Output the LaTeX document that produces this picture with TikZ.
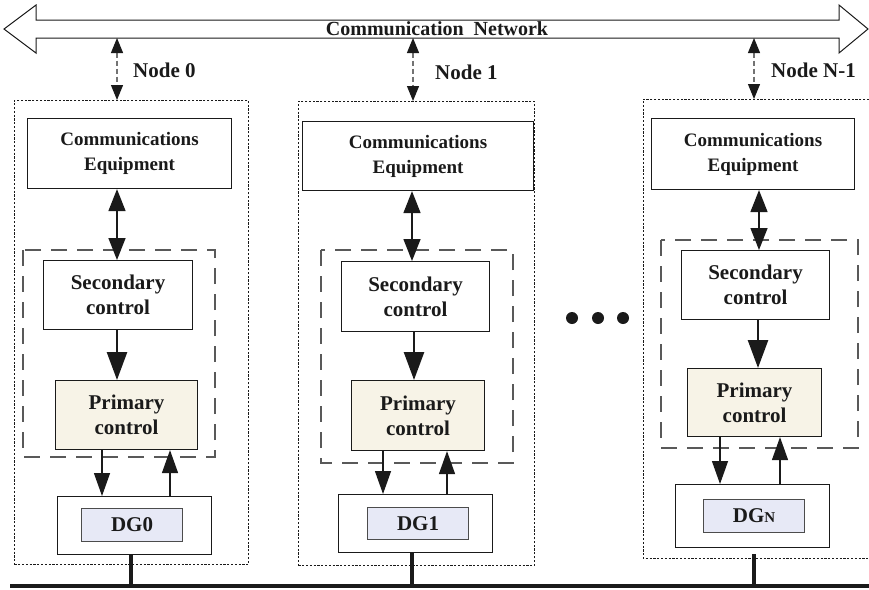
\documentclass[tikz,border=0pt]{standalone}
\usepackage{fontspec}
\setmainfont{Liberation Serif}
\usetikzlibrary{arrows.meta}
\definecolor{ink}{HTML}{1A1A1A}
\definecolor{cream}{HTML}{F7F3E7}
\definecolor{lav}{HTML}{E7E9F6}
\newcommand\fcomm{\fontsize{19}{25}\selectfont\bfseries}
\newcommand\fnet{\fontsize{20}{24}\selectfont\bfseries}
\newcommand\fctrl{\fontsize{21}{25}\selectfont\bfseries}
\newcommand\flabel{\fontsize{21}{24}\selectfont\bfseries}
\begin{document}
\begin{tikzpicture}[x=1pt,y=-1pt,
  blk/.style={draw=ink, line width=1.1pt, fill=white, inner sep=0pt,
    anchor=north west, align=center, text=ink},
  primbox/.style={blk, fill=cream, font=\fctrl},
  secbox/.style={blk, font=\fctrl},
  commbox/.style={blk, font=\fcomm},
  dgbox/.style={blk},
  dgcore/.style={blk, draw=black!70, line width=1pt, fill=lav, font=\fctrl},
  outerzone/.style={draw=ink, line width=0.9pt, dash pattern=on 2.2pt off 1.6pt,
    inner sep=0pt, anchor=north west},
  ctrlzone/.style={draw=black!65, line width=1.3pt, dash pattern=on 16pt off 10pt},
  lbl/.style={anchor=west, font=\flabel, text=ink, inner sep=0pt},
  netlink/.style={draw=black!55, line width=1.2pt, dash pattern=on 5pt off 3pt,
    {Triangle[length=15pt,width=12pt,color=ink]}-{Triangle[length=15pt,width=12pt,color=ink]}},
  commlink/.style={draw=ink, line width=1.5pt,
    {Triangle[length=22pt,width=17pt]}-{Triangle[length=22pt,width=17pt]}},
  flow/.style={draw=ink, line width=2.6pt, -{Triangle[length=28pt,width=20pt]}},
  sig/.style={draw=ink, line width=1.3pt, -{Triangle[length=23pt,width=16pt]}},
  bus/.style={draw=ink, line width=4.5pt},
  stub/.style={draw=ink, line width=3.5pt},
  dot/.style={circle, fill=ink, inner sep=0pt, minimum size=12pt}]
\useasboundingbox (0,0) rectangle (869,589);

% communication network (wide double-headed arrow)
\draw[draw=ink, line width=1pt, fill=white]
  (4,29) -- (36,5) -- (36,20) -- (839,20) -- (839,5) -- (868,29)
  -- (839,53) -- (839,38) -- (36,38) -- (36,53) -- cycle;
\coordinate (shaft) at (36,38);
\node[font=\fnet, text=ink, inner sep=0pt] (net) at (437,29) {Communication~~Network};

% ---------- node 0 ----------
\node[outerzone, minimum width=234pt, minimum height=464pt] (out0) at (14,100) {};
\draw[ctrlzone] (23,250) rectangle (215,457);
\node[commbox, minimum width=204pt, minimum height=70pt] (ce0) at (27,118) {Communications\\Equipment};
\node[secbox, minimum width=149pt, minimum height=69pt] (sc0) at (43,260) {Secondary\\control};
\node[primbox, minimum width=142pt, minimum height=69pt] (pc0) at (55,380) {Primary\\control};
\node[dgbox, minimum width=154pt, minimum height=58pt] (dg0) at (57,496) {};
\node[dgcore, minimum width=101pt, minimum height=33pt] (dgc0) at (81,508) {DG0};
\node[lbl] (n0) at (133,70) {Node 0};
\draw[netlink] (117,0 |- shaft) -- (117,0 |- out0.north);
\draw[commlink] (117,0 |- ce0.south) -- (117,0 |- sc0.north);
\draw[flow] (117,0 |- sc0.south) -- (117,0 |- pc0.north);
\draw[sig] (102,0 |- pc0.south) -- (102,0 |- dg0.north);
\draw[sig] (170,0 |- dg0.north) -- (170,0 |- pc0.south);

% ---------- node 1 ----------
\node[outerzone, minimum width=236pt, minimum height=464pt] (out1) at (298,101) {};
\draw[ctrlzone] (321,250) rectangle (513,463);
\node[commbox, minimum width=231pt, minimum height=69pt] (ce1) at (302,121) {Communications\\Equipment};
\node[secbox, minimum width=148pt, minimum height=70pt] (sc1) at (341,261) {Secondary\\control};
\node[primbox, minimum width=133pt, minimum height=70pt] (pc1) at (351,380) {Primary\\control};
\node[dgbox, minimum width=154pt, minimum height=58pt] (dg1) at (338,494) {};
\node[dgcore, minimum width=101pt, minimum height=32pt] (dgc1) at (367,507) {DG1};
\node[lbl] (n1) at (435,72) {Node 1};
\draw[netlink] (413,0 |- shaft) -- (413,0 |- out1.north);
\draw[commlink] (412,0 |- ce1.south) -- (412,0 |- sc1.north);
\draw[flow] (414,0 |- sc1.south) -- (414,0 |- pc1.north);
\draw[sig] (383,0 |- pc1.south) -- (383,0 |- dg1.north);
\draw[sig] (447,0 |- dg1.north) -- (447,0 |- pc1.south);

% ---------- node N-1 (runs off the right edge) ----------
\draw[draw=ink, line width=0.9pt, dash pattern=on 2.2pt off 1.6pt]
  (869,99) -- (643,99) -- (643,558) -- (869,558);
\coordinate (outNtop) at (754,99);
\draw[ctrlzone] (661,240) rectangle (858,448);
\node[commbox, minimum width=203pt, minimum height=71pt] (ceN) at (651,118) {Communications\\Equipment};
\node[secbox, minimum width=148pt, minimum height=69pt] (scN) at (681,250) {Secondary\\control};
\node[primbox, minimum width=134pt, minimum height=68pt] (pcN) at (687,368) {Primary\\control};
\node[dgbox, minimum width=154pt, minimum height=63pt] (dgN) at (675,484) {};
\node[dgcore, minimum width=101pt, minimum height=33pt] (dgcN) at (703,499) {DG{\fontsize{15}{15}\selectfont N}};
\node[lbl] (nN) at (771,70) {Node N-1};
\draw[netlink] (754,0 |- shaft) -- (outNtop);
\draw[commlink] (759,0 |- ceN.south) -- (759,0 |- scN.north);
\draw[flow] (758,0 |- scN.south) -- (758,0 |- pcN.north);
\draw[sig] (720,0 |- pcN.south) -- (720,0 |- dgN.north);
\draw[sig] (780,0 |- dgN.north) -- (780,0 |- pcN.south);

% ellipsis between the nodes
\node[dot] (e1) at (572,318) {};
\node[dot] (e2) at (598,318) {};
\node[dot] (e3) at (623,318) {};

% common electrical bus
\coordinate (busL) at (10,586);
\coordinate (busR) at (869,586);
\draw[bus] (busL) -- (busR);
\draw[stub] (131,0 |- dg0.south) -- (131,0 |- busL);
\draw[stub] (412,0 |- dg1.south) -- (412,0 |- busL);
\draw[stub, shorten <=6pt] (754,0 |- dgN.south) -- (754,0 |- busL);
\end{tikzpicture}
\end{document}
